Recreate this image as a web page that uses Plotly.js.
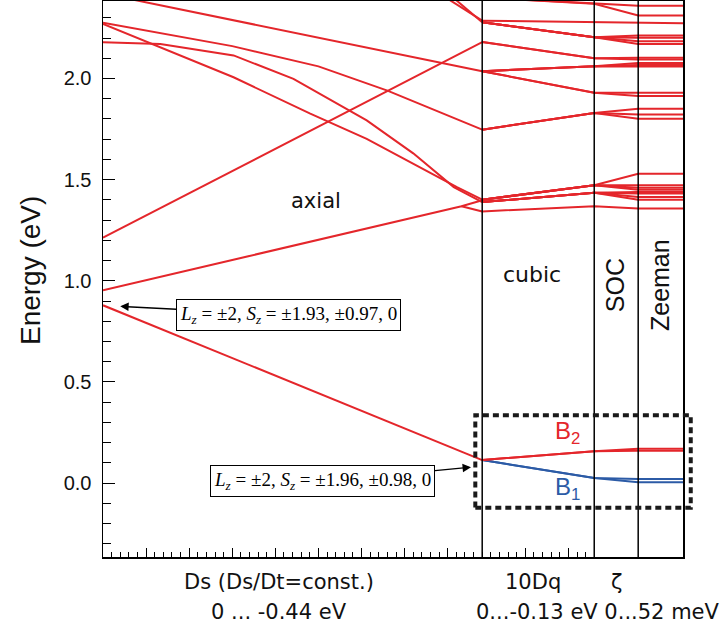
<!DOCTYPE html>
<html><head><meta charset="utf-8">
<script src="https://cdn.plot.ly/plotly-3.0.1.min.js"></script>
<style>html,body{margin:0;padding:0;background:#fff}#plot{width:725px;height:634px}</style>
</head><body><div id="plot"></div>
<script>
// x: cumulative parameter steps (1 unit = 0.01 eV). Ds 0–44, 10Dq 44–57, SOC 57–62.1, Zeeman 62.1–67.3
const sectionEdges = [44, 57, 62.1];
const xRange = [0, 67.3];
const yRange = [-0.365, 2.383];

// ---- Ds (axial) sweep ----
const dsLow_x = [0, 44];                         const dsLow_E = [0.879, 0.114];
const dsA_x = [0, 41.6, 44];                     const dsA_E = [0.953, 1.369, 1.398];
const dsAb_x = [41.6, 44];                       const dsAb_E = [1.369, 1.343];
const dsB_x = [0, 44];                           const dsB_E = [1.213, 2.180];
const dsTop_x = [0, 44];                         const dsTop_E = [2.420, 2.036];
const dsC_x = [0, 15, 25, 33, 44];               const dsC_E = [2.275, 2.16, 2.06, 1.94, 1.747];
const dsD_x = [0, 15.15, 24.05, 30.6, 41.07, 44]; const dsD_E = [2.270, 2.006, 1.826, 1.702, 1.463, 1.401];
const dsE_x = [0, 6.65, 15.15, 22.1, 30.6, 36, 40.7, 44]; const dsE_E = [2.179, 2.171, 2.114, 1.998, 1.793, 1.63, 1.463, 1.389];
const dsF_x = [37, 44];                          const dsF_E = [2.475, 2.286];
const dsG_x = [38, 44];                          const dsG_E = [2.495, 2.278];

// ---- 10Dq (cubic), SOC, Zeeman: energies at x = 44, 57, 62.1, 67.3 ----
const rightX = [44, 57, 62.1, 67.3];
const r01 = [2.400, 2.369, 2.360, 2.360];
const r02 = [2.400, 2.369, 2.311, 2.311];
const r03 = [2.286, 2.278, 2.273, 2.273];
const r04 = [2.278, 2.204, 2.212, 2.212];
const r05 = [2.278, 2.204, 2.201, 2.201];
const r06 = [2.278, 2.204, 2.184, 2.184];
const r07 = [2.278, 2.204, 2.171, 2.171];
const r08 = [2.180, 2.100, 2.102, 2.102];
const r09 = [2.180, 2.100, 2.094, 2.094];
const r10 = [2.036, 2.061, 2.076, 2.076];
const r11 = [2.036, 2.061, 2.067, 2.067];
const r12 = [2.036, 2.061, 2.059, 2.059];
const r13 = [2.036, 1.930, 1.929, 1.929];
const r14 = [2.036, 1.930, 1.913, 1.913];
const r15 = [1.747, 1.829, 1.850, 1.850];
const r16 = [1.747, 1.829, 1.822, 1.822];
const r17 = [1.747, 1.829, 1.801, 1.801];
const r18 = [1.401, 1.472, 1.529, 1.529];
const r19 = [1.401, 1.472, 1.472, 1.472];
const r20 = [1.401, 1.472, 1.460, 1.460];
const r21 = [1.401, 1.472, 1.450, 1.450];
const r22 = [1.389, 1.435, 1.439, 1.439];
const r23 = [1.389, 1.435, 1.431, 1.431];
const r24 = [1.389, 1.435, 1.414, 1.414];
const r25 = [1.389, 1.435, 1.401, 1.401];
const r26 = [1.343, 1.369, 1.357, 1.357];
const b2a = [0.114, 0.158, 0.170, 0.170];
const b2b = [0.114, 0.158, 0.160, 0.160];
const b1a = [0.114, 0.026, 0.020, 0.020];
const b1b = [0.114, 0.026, 0.004, 0.004];

// tick labels
const yTickVals = [0, 0.5, 1.0, 1.5, 2.0];
const yTickText = ['0.0', '0.5', '1.0', '1.5', '2.0'];

const RED = '#e4262b', BLUE = '#2c5ba6';
const traces = [];
function addLine(x, y, color) {
  traces.push({x: x, y: y, type: 'scatter', mode: 'lines', line: {color: color, width: 2},
               hoverinfo: 'skip', showlegend: false});
}
[[dsLow_x, dsLow_E], [dsA_x, dsA_E], [dsAb_x, dsAb_E], [dsB_x, dsB_E], [dsTop_x, dsTop_E],
 [dsC_x, dsC_E], [dsD_x, dsD_E], [dsE_x, dsE_E], [dsF_x, dsF_E], [dsG_x, dsG_E]]
  .forEach(p => addLine(p[0], p[1], RED));
[r01, r02, r03, r04, r05, r06, r07, r08, r09, r10, r11, r12, r13, r14, r15, r16, r17,
 r18, r19, r20, r21, r22, r23, r24, r25, r26].forEach(e => addLine(rightX, e, RED));
[b1a, b1b].forEach(e => addLine(rightX, e, BLUE));
[b2a, b2b].forEach(e => addLine(rightX, e, RED));

// x ticks: every 0.01 eV in Ds and 10Dq sections
const xMajor = [], xMinor = [];
for (let i = 0; i <= 44; i++) (i % 5 === 0 ? xMajor : xMinor).push(i);
for (let i = 1; i <= 12; i++) ((i % 5 === 0) ? xMajor : xMinor).push(44 + i);

const toPx = v => (v - xRange[0]) / (xRange[1] - xRange[0]);
const toPy = v => (v - yRange[0]) / (yRange[1] - yRange[0]);

const shapes = sectionEdges.map(x => ({type: 'line', xref: 'x', yref: 'paper', x0: x, x1: x, y0: 0, y1: 1,
  line: {color: '#000', width: 1.5}}));
shapes.push({type: 'rect', xref: 'paper', yref: 'paper', x0: toPx(43.2), x1: toPx(68.2),
  y0: toPy(-0.122), y1: toPy(0.336), line: {color: '#1a1a1a', width: 4, dash: '6px,4px'}});

const SANS = 'Liberation Sans, Arial, sans-serif';
const WIDE = 'DejaVu Sans, Liberation Sans, sans-serif';
const SERIF = 'Liberation Serif, Times New Roman, serif';
const mathBox = {showarrow: true, arrowhead: 2, arrowsize: 1.2, arrowwidth: 1.4, arrowcolor: '#000',
   bordercolor: '#000', borderwidth: 1, borderpad: 3, bgcolor: '#fff', font: {family: SERIF, size: 19, color: '#000'}};
const ann = [
  {xref: 'paper', yref: 'paper', x: -0.126, y: 0.516, text: 'Energy (eV)', textangle: -90,
    showarrow: false, xanchor: 'center', yanchor: 'middle', font: {family: SANS, size: 28}},
  {x: 24.7, y: 1.397, text: 'axial', showarrow: false, font: {family: WIDE, size: 21}},
  {x: 49.8, y: 1.03, text: 'cubic', showarrow: false, font: {family: WIDE, size: 22}},
  {x: 59.4, y: 0.978, text: 'SOC', textangle: -90, showarrow: false, font: {size: 25}},
  {x: 64.65, y: 0.98, text: 'Zeeman', textangle: -90, showarrow: false, font: {size: 25}},
  {x: 53.9, y: 0.25, text: 'B<sub>2</sub>', showarrow: false, font: {size: 24, color: RED}},
  {x: 53.9, y: -0.025, text: 'B<sub>1</sub>', showarrow: false, font: {size: 24, color: BLUE}},
  Object.assign({}, mathBox, {x: 2.0, y: 0.874, ax: 168, ay: 9,
    text: '<i>L</i><sub><i>z</i></sub> = ±2, <i>S</i><sub><i>z</i></sub> = ±1.93, ±0.97, 0'}),
  Object.assign({}, mathBox, {x: 42.7, y: 0.079, ax: -148, ay: 14,
    text: '<i>L</i><sub><i>z</i></sub> = ±2, <i>S</i><sub><i>z</i></sub> = ±1.96, ±0.98, 0'}),
  {x: 20.45, yref: 'paper', y: -0.045, yanchor: 'middle', text: 'Ds (Ds/Dt=const.)', showarrow: false, font: {family: WIDE, size: 21}},
  {x: 20.45, yref: 'paper', y: -0.099, yanchor: 'middle', text: '0 ... -0.44 eV', showarrow: false, font: {family: WIDE, size: 21}},
  {x: 49.9, yref: 'paper', y: -0.045, yanchor: 'middle', text: '10Dq', showarrow: false, font: {family: WIDE, size: 21}},
  {x: 59.55, yref: 'paper', y: -0.045, yanchor: 'middle', text: 'ζ', showarrow: false, font: {family: WIDE, size: 21}},
  {x: 57.4, yref: 'paper', y: -0.099, yanchor: 'middle', text: '0...-0.13 eV 0...52 meV', showarrow: false, font: {family: WIDE, size: 21}}
];

const layout = {
  width: 725, height: 634,
  margin: {l: 103, r: 42, t: 1, b: 77},
  paper_bgcolor: '#fff', plot_bgcolor: '#fff',
  font: {family: SANS, color: '#111', size: 20},
  showlegend: false,
  xaxis: {range: xRange, showgrid: false, zeroline: false, showline: true, mirror: true,
    linecolor: '#000', linewidth: 1.5, ticks: 'inside', ticklen: 9, tickwidth: 1, tickcolor: '#000',
    tickmode: 'array', tickvals: xMajor, showticklabels: false,
    minor: {tickmode: 'array', tickvals: xMinor, ticklen: 5, tickwidth: 1, tickcolor: '#000', ticks: 'inside', showgrid: false}},
  yaxis: {range: yRange, showgrid: false, zeroline: false, showline: true, mirror: true,
    linecolor: '#000', linewidth: 1.5, ticks: 'inside', ticklen: 12, tickwidth: 1, tickcolor: '#000',
    tickmode: 'array', tickvals: yTickVals, ticktext: yTickText, ticklabelstandoff: 6,
    tickfont: {size: 20, family: SANS},
    minor: {dtick: 0.1, ticklen: 8, tickwidth: 1, tickcolor: '#000', ticks: 'inside', showgrid: false}},
  shapes: shapes,
  annotations: ann
};
Plotly.newPlot('plot', traces, layout, {displayModeBar: false, staticPlot: true});
</script></body></html>
